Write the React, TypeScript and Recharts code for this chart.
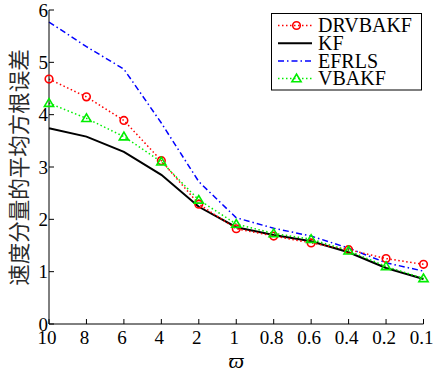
import React from 'react';
import { LineChart, Line, XAxis, YAxis, Legend } from 'recharts';

const categories = ['10', '8', '6', '4', '2', '1', '0.8', '0.6', '0.4', '0.2', '0.1'];
const drvbakf = [4.68, 4.34, 3.89, 3.12, 2.29, 1.82, 1.68, 1.55, 1.42, 1.25, 1.14];
const kf = [3.74, 3.58, 3.29, 2.85, 2.24, 1.85, 1.70, 1.58, 1.37, 1.07, 0.86];
const efrls = [5.77, 5.30, 4.87, 3.84, 2.72, 2.03, 1.83, 1.68, 1.45, 1.17, 1.01];
const vbakf = [4.22, 3.93, 3.58, 3.10, 2.37, 1.91, 1.73, 1.62, 1.40, 1.10, 0.87];
const yTicks = [0, 1, 2, 3, 4, 5, 6];
const seriesNames = ['DRVBAKF', 'KF', 'EFRLS', 'VBAKF'];
const yLabel = '速度分量的平均方根误差';
const xLabel = 'ϖ';

const data = categories.map((c, i) => ({
  x: c,
  DRVBAKF: drvbakf[i],
  KF: kf[i],
  EFRLS: efrls[i],
  VBAKF: vbakf[i],
}));

const SERIF = '"Liberation Serif", "Times New Roman", serif';
const RED = '#ff0000';
const GREEN = '#00ee00';
const BLUE = '#0000ff';

const styles: Record<string, { color: string; dash?: string; width: number; marker?: string }> = {
  DRVBAKF: { color: RED, dash: '1.5 2.5', width: 1.5, marker: 'circle' },
  KF: { color: '#000000', width: 2 },
  EFRLS: { color: BLUE, dash: '6 3 1.5 3', width: 1.5 },
  VBAKF: { color: GREEN, dash: '1.5 2.5', width: 1.5, marker: 'triangle' },
};

const Marker = ({ kind, cx, cy, color }: any) => {
  if (kind === 'circle') {
    return <circle cx={cx} cy={cy} r={3.8} fill="none" stroke={color} strokeWidth={1.6} />;
  }
  if (kind === 'triangle') {
    return (
      <polygon
        points={`${cx},${cy - 4.5} ${cx - 4.6},${cy + 3.2} ${cx + 4.6},${cy + 3.2}`}
        fill="none"
        stroke={color}
        strokeWidth={1.6}
      />
    );
  }
  return null;
};

const makeDot = (kind: string, color: string) => (props: any) => {
  const { cx, cy, index } = props;
  if (cx == null || cy == null) return <g key={index} />;
  return (
    <g key={`${kind}-${index}`}>
      <Marker kind={kind} cx={cx} cy={cy} color={color} />
    </g>
  );
};

const BottomTick = (props: any) => {
  const { x, y, payload } = props;
  return (
    <g>
      <line x1={x} x2={x} y1={y} y2={y - 5} stroke="#000" strokeWidth={1} />
      <text x={x - 2} y={y + 19.5} textAnchor="middle" fontSize={19} fontFamily={SERIF} fill="#000">
        {payload.value}
      </text>
    </g>
  );
};

const TopTick = (props: any) => {
  const { x, y } = props;
  return <line x1={x} x2={x} y1={y} y2={y + 5} stroke="#000" strokeWidth={1} />;
};

const LeftTick = (props: any) => {
  const { x, y, payload } = props;
  return (
    <g>
      <line x1={x} x2={x + 5} y1={y} y2={y} stroke="#000" strokeWidth={1} />
      <text x={x - 1} y={y + 6.5} textAnchor="end" fontSize={19} fontFamily={SERIF} fill="#000">
        {payload.value}
      </text>
    </g>
  );
};

const RightTick = (props: any) => {
  const { x, y } = props;
  return <line x1={x} x2={x - 5} y1={y} y2={y} stroke="#000" strokeWidth={1} />;
};

const renderLegend = () => (
  <svg width={151} height={78} style={{ display: 'block' }}>
    <rect x={0.5} y={0.5} width={150} height={76.5} fill="#fff" stroke="#000" strokeWidth={1} />
    {seriesNames.map((name, i) => {
      const s = styles[name];
      const cy = 12.5 + i * 17.7;
      return (
        <g key={name}>
          <line
            x1={7}
            x2={41}
            y1={cy}
            y2={cy}
            stroke={s.color}
            strokeWidth={s.width}
            strokeDasharray={s.dash}
          />
          {s.marker && <Marker kind={s.marker} cx={25.5} cy={cy} color={s.color} />}
          <text x={47} y={cy + 6.7} fontSize={20} fontFamily={SERIF} fill="#000">
            {name}
          </text>
        </g>
      );
    })}
  </svg>
);

const YLabelContent = (props: any) => {
  const vb = props.viewBox || { x: 0, y: 10, width: 49, height: 314 };
  const cx = vb.x + 17.5;
  const cy = vb.y + vb.height / 2 + 0.5;
  return (
    <text
      x={cx}
      y={cy}
      transform={`rotate(-90, ${cx}, ${cy})`}
      textAnchor="middle"
      dominantBaseline="central"
      fontSize={21.5}
      fontFamily='"Noto Sans CJK SC", sans-serif'
      fill="#2a2a2a"
    >
      {yLabel}
    </text>
  );
};

const XLabelContent = (props: any) => {
  const vb = props.viewBox || { x: 49, y: 324, width: 374.5, height: 50 };
  return (
    <text
      x={vb.x + vb.width / 2}
      y={vb.y + 44}
      textAnchor="middle"
      fontSize={22}
      fontStyle="italic"
      fontFamily={SERIF}
      fill="#000"
    >
      {xLabel}
    </text>
  );
};

export default function App() {
  return (
    <div style={{ position: 'absolute', left: 0, top: 0, width: 433, height: 374, background: '#fff' }}>
      <LineChart
        width={433}
        height={374}
        data={data}
        margin={{ top: 10, right: 9.5, bottom: 0, left: 0 }}
      >
        <XAxis
          dataKey="x"
          xAxisId={0}
          type="category"
          scale="point"
          padding={{ left: 0, right: 0 }}
          height={50}
          tickSize={0}
          tickMargin={0}
          tickLine={false}
          interval={0}
          axisLine={{ stroke: '#000', strokeWidth: 1 }}
          tick={<BottomTick />}
          label={{ content: <XLabelContent /> }}
        />
        <XAxis
          dataKey="x"
          xAxisId="top"
          orientation="top"
          type="category"
          scale="point"
          padding={{ left: 0, right: 0 }}
          height={0}
          tickSize={0}
          tickMargin={0}
          tickLine={false}
          interval={0}
          axisLine={{ stroke: '#000', strokeWidth: 1 }}
          tick={<TopTick />}
        />
        <YAxis
          yAxisId={0}
          type="number"
          domain={[0, 6]}
          ticks={yTicks}
          width={49}
          tickSize={0}
          tickMargin={0}
          tickLine={false}
          interval={0}
          axisLine={{ stroke: '#000', strokeWidth: 1 }}
          tick={<LeftTick />}
          label={{ content: <YLabelContent /> }}
        />
        <YAxis
          yAxisId="right"
          orientation="right"
          type="number"
          domain={[0, 6]}
          ticks={yTicks}
          width={0}
          tickSize={0}
          tickMargin={0}
          tickLine={false}
          interval={0}
          axisLine={{ stroke: '#000', strokeWidth: 1 }}
          tick={<RightTick />}
        />
        <Legend
          layout="vertical"
          align="center"
          verticalAlign="middle"
          content={renderLegend}
          wrapperStyle={{ left: 271, top: 13, width: 151, height: 78, right: 'auto', bottom: 'auto' }}
        />
        <Line
          dataKey="EFRLS"
          stroke={BLUE}
          strokeWidth={1.5}
          strokeDasharray="6 3 1.5 3"
          dot={false}
          activeDot={false}
          type="linear"
          isAnimationActive={false}
        />
        <Line
          dataKey="KF"
          stroke="#000"
          strokeWidth={2}
          dot={false}
          activeDot={false}
          type="linear"
          isAnimationActive={false}
        />
        <Line
          dataKey="DRVBAKF"
          stroke={RED}
          strokeWidth={1.5}
          strokeDasharray="1.5 2.5"
          dot={makeDot('circle', RED)}
          activeDot={false}
          type="linear"
          isAnimationActive={false}
        />
        <Line
          dataKey="VBAKF"
          stroke={GREEN}
          strokeWidth={1.5}
          strokeDasharray="1.5 2.5"
          dot={makeDot('triangle', GREEN)}
          activeDot={false}
          type="linear"
          isAnimationActive={false}
        />
      </LineChart>
    </div>
  );
}
